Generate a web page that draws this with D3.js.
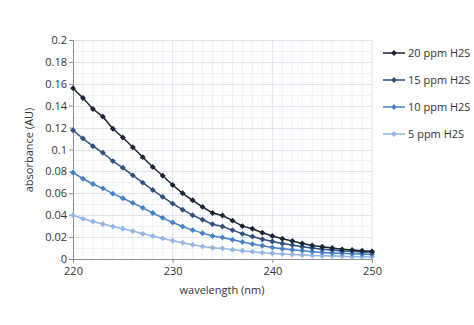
<!DOCTYPE html>
<html><head><meta charset="utf-8">
<script src="https://cdn.jsdelivr.net/npm/d3@7"></script>
<style>body{margin:0;background:#fff}svg text{font-family:"Open Sans","Liberation Sans",sans-serif;fill:#333}</style>
</head><body><svg id="c" width="474" height="325"></svg>
<script>
const wavelengths = d3.range(220, 251);
const ppm20 = [0.156,0.147,0.137,0.130,0.119,0.111,0.102,0.093,0.084,0.076,0.0676,0.060,0.0536,0.0476,0.042,0.0397,0.035,0.030,0.0276,0.024,0.021,0.0185,0.0164,0.0142,0.0124,0.0112,0.010,0.0088,0.0082,0.0076,0.007];
const ppm15 = [0.1176,0.110,0.103,0.097,0.0894,0.0833,0.0764,0.0697,0.063,0.0567,0.0506,0.045,0.040,0.0358,0.0318,0.0297,0.0264,0.023,0.0206,0.018,0.016,0.0142,0.0127,0.0112,0.010,0.009,0.0082,0.0073,0.007,0.0064,0.006];
const ppm10 = [0.079,0.0733,0.0685,0.0645,0.0597,0.0555,0.0512,0.0467,0.042,0.0376,0.0333,0.0297,0.0264,0.0236,0.021,0.0197,0.0176,0.0155,0.0136,0.0121,0.0106,0.0094,0.0085,0.0076,0.0067,0.006,0.0055,0.0052,0.0048,0.0045,0.0042];
const ppm5 = [0.040,0.0367,0.0342,0.032,0.0297,0.0276,0.0255,0.023,0.021,0.0188,0.0167,0.0148,0.013,0.0115,0.0103,0.0097,0.0085,0.0076,0.0067,0.0058,0.0052,0.0045,0.004,0.0036,0.0033,0.003,0.0027,0.0024,0.0021,0.0021,0.0018];
const seriesNames = ["20 ppm H2S","15 ppm H2S","10 ppm H2S","5 ppm H2S"];
const seriesColors = ["#1b2433","#30507f","#4681c8","#93b6e2"];
const yTicks = [0,0.02,0.04,0.06,0.08,0.1,0.12,0.14,0.16,0.18,0.2];
const xTicks = [220,230,240,250];

const svg = d3.select("#c");
const L=73,R=372,T=40,B=259;
const x = d3.scaleLinear().domain([220,250]).range([L,R]);
const y = d3.scaleLinear().domain([0,0.2]).range([B,T]);

// grid
const g = svg.append("g");
g.selectAll(".vg").data(d3.range(221,251)).enter().append("line")
 .attr("x1",d=>x(d)).attr("x2",d=>x(d)).attr("y1",T).attr("y2",B)
 .attr("stroke",d=>d%10===0?"#dde4ee":"#eef2f7").attr("stroke-width",1);
g.selectAll(".hg").data(d3.range(1,21).map(i=>i*0.01)).enter().append("line")
 .attr("x1",L).attr("x2",R).attr("y1",d=>Math.round(y(d))+0.5).attr("y2",d=>Math.round(y(d))+0.5)
 .attr("stroke",(d,i)=>i%2===1?"#dde4ee":"#eef2f7").attr("stroke-width",1);

// axes
const ya = svg.append("g").attr("transform",`translate(${L},0)`)
 .call(d3.axisLeft(y).tickValues(yTicks).tickSize(4).tickFormat(d=>String(+d.toFixed(2))));
const xa = svg.append("g").attr("transform",`translate(0,${B})`)
 .call(d3.axisBottom(x).tickValues(xTicks).tickSize(4).tickFormat(d3.format("d")));
[ya,xa].forEach(a=>{a.select(".domain").attr("stroke","#8c8c8c");a.selectAll(".tick line").attr("stroke","#8c8c8c");
 a.selectAll("text").style("font-size","11px").attr("fill","#333");});
ya.selectAll("text").attr("x",-6);
xa.selectAll("text").attr("y",8);

svg.append("text").attr("x",222).attr("y",294).attr("text-anchor","middle").style("font-size","11px").text("wavelength (nm)");
svg.append("text").attr("transform","translate(33,150) rotate(-90)").attr("text-anchor","middle").style("font-size","11px").text("absorbance (AU)");

const data=[ppm20,ppm15,ppm10,ppm5];
const line=d3.line().x((d,i)=>x(wavelengths[i])).y(d=>y(d));
const diamond=d3.symbol().type(d3.symbolDiamond2).size(22);
// draw from lightest to darkest
for(let s=3;s>=0;s--){
 svg.append("path").datum(data[s]).attr("d",line).attr("fill","none").attr("stroke",seriesColors[s]).attr("stroke-width",1.5);
 svg.append("g").selectAll("path").data(data[s]).enter().append("path")
  .attr("d",diamond).attr("transform",(d,i)=>`translate(${x(wavelengths[i])},${y(d)})`).attr("fill",seriesColors[s]);
}

// legend
const lg=svg.append("g");
seriesNames.forEach((n,i)=>{
 const ly=53+i*27;
 lg.append("line").attr("x1",383).attr("x2",405).attr("y1",ly).attr("y2",ly).attr("stroke",seriesColors[i]).attr("stroke-width",1.5);
 lg.append("path").attr("d",diamond).attr("transform",`translate(394,${ly})`).attr("fill",seriesColors[i]);
 lg.append("text").attr("x",408).attr("y",ly+4).style("font-size","11px").text(n);
});
</script></body></html>
